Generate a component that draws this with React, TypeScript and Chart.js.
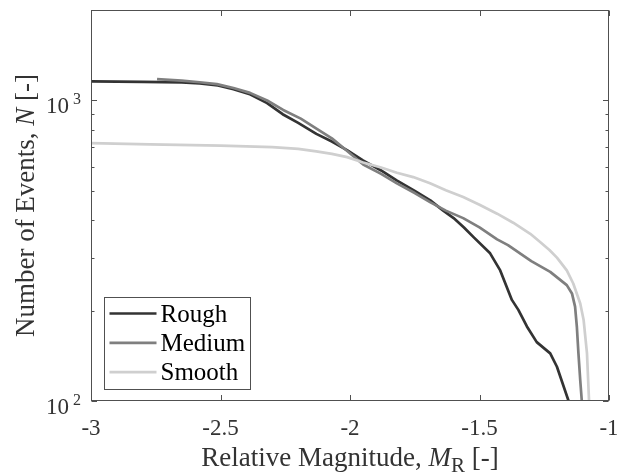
import { useEffect, useRef } from 'react';
import { Chart, registerables } from 'chart.js';

Chart.register(...registerables);

// ---- data ----
const seriesLabels = ['Rough', 'Medium', 'Smooth'];
const seriesColors = ['#333333', '#7f7f7f', '#cfcfcf'];

const roughX = [-3.0, -2.8, -2.65, -2.58, -2.51, -2.45, -2.39, -2.32, -2.26, -2.2, -2.13, -2.07, -2.01, -1.95, -1.88, -1.82, -1.75, -1.69, -1.64, -1.6, -1.56, -1.523, -1.459, -1.42, -1.375, -1.35, -1.317, -1.279, -1.227, -1.201, -1.156];
const roughN = [1157, 1153, 1149, 1140, 1122, 1090, 1052, 980, 900, 842, 774, 730, 682, 632, 585, 542, 500, 465, 430, 406, 378, 351, 310, 272, 217, 201, 177, 157, 144, 130, 100];

const mediumX = [-2.745, -2.65, -2.58, -2.514, -2.45, -2.386, -2.32, -2.258, -2.19, -2.128, -2.07, -2.012, -1.949, -1.88, -1.819, -1.75, -1.691, -1.63, -1.563, -1.5, -1.432, -1.39, -1.3, -1.227, -1.163, -1.143, -1.131, -1.124, -1.118, -1.111, -1.105];
const mediumN = [1178, 1165, 1150, 1133, 1100, 1060, 1000, 930, 870, 805, 748, 680, 612, 570, 530, 492, 459, 430, 406, 378, 345, 330, 292, 269, 243, 228, 206, 176, 144, 117, 100];

const smoothX = [-3.0, -2.772, -2.5, -2.4, -2.3, -2.2, -2.13, -2.07, -2.011, -1.949, -1.88, -1.819, -1.756, -1.691, -1.63, -1.563, -1.5, -1.432, -1.37, -1.304, -1.266, -1.23, -1.201, -1.163, -1.138, -1.111, -1.098, -1.085, -1.077];
const smoothN = [721, 714, 708, 704, 699, 690, 677, 664, 648, 622, 598, 575, 556, 530, 503, 477, 450, 420, 392, 360, 338, 318, 300, 272, 246, 211, 186, 144, 100];

const xTickValues = [-3, -2.5, -2, -1.5, -1];
const xTickLabels = ['-3', '-2.5', '-2', '-1.5', '-1'];
const yMajorTicks = [100, 1000];
const yMajorExponents = ['2', '3'];
const yMinorTicks = [200, 300, 400, 500, 600, 700, 800, 900, 2000];

const FONT = "'Liberation Serif', 'Times New Roman', serif";

type Seg = { text: string; font: string; dy: number };

function segWidth(ctx: CanvasRenderingContext2D, segs: Seg[]) {
  let w = 0;
  for (const s of segs) {
    ctx.font = s.font;
    w += ctx.measureText(s.text).width;
  }
  return w;
}

function drawSegs(ctx: CanvasRenderingContext2D, segs: Seg[], cx: number, y: number) {
  const total = segWidth(ctx, segs);
  let x = cx - total / 2;
  ctx.textAlign = 'left';
  ctx.textBaseline = 'alphabetic';
  for (const s of segs) {
    ctx.font = s.font;
    ctx.fillText(s.text, x, y + s.dy);
    x += ctx.measureText(s.text).width;
  }
}

const matlabAxes = {
  id: 'matlabAxes',
  afterDatasetsDraw(chart: any) {
    const { ctx, chartArea: a, scales } = chart;
    const xs = scales.x;
    const ys = scales.y;
    ctx.save();
    const L = Math.round(a.left) + 0.5;
    const R = Math.round(a.right) - 0.5;
    const T = Math.round(a.top) + 0.5;
    const B = Math.round(a.bottom) - 0.5;

    // box
    ctx.strokeStyle = '#505050';
    ctx.lineWidth = 1;
    ctx.strokeRect(L, T, R - L, B - T);

    // ticks (inward)
    ctx.beginPath();
    xTickValues.forEach((v) => {
      const px = Math.round(xs.getPixelForValue(v)) + 0.5;
      ctx.moveTo(px, B); ctx.lineTo(px, B - 5.5);
      ctx.moveTo(px, T); ctx.lineTo(px, T + 5.5);
    });
    yMajorTicks.forEach((v) => {
      const py = Math.round(ys.getPixelForValue(v)) + 0.5;
      ctx.moveTo(L, py); ctx.lineTo(L + 5.5, py);
      ctx.moveTo(R, py); ctx.lineTo(R - 5.5, py);
    });
    yMinorTicks.forEach((v) => {
      const py = Math.round(ys.getPixelForValue(v)) + 0.5;
      ctx.moveTo(L, py); ctx.lineTo(L + 3, py);
      ctx.moveTo(R, py); ctx.lineTo(R - 3, py);
    });
    ctx.stroke();

    // x tick labels
    ctx.fillStyle = '#333333';
    ctx.font = `23px ${FONT}`;
    ctx.textAlign = 'center';
    ctx.textBaseline = 'alphabetic';
    xTickValues.forEach((v, i) => {
      ctx.fillText(xTickLabels[i], xs.getPixelForValue(v), a.bottom + 34);
    });

    // y tick labels 10^n
    yMajorTicks.forEach((v, i) => {
      const py = ys.getPixelForValue(v);
      ctx.textAlign = 'left';
      ctx.font = `16px ${FONT}`;
      const ew = ctx.measureText(yMajorExponents[i]).width;
      const ex = a.left - 10 - ew;
      ctx.fillText(yMajorExponents[i], ex, py + 4);
      ctx.font = `23px ${FONT}`;
      const tw = ctx.measureText('10').width;
      ctx.fillText('10', ex - 4 - tw, py + 13);
    });

    // x title
    const xSegs: Seg[] = [
      { text: 'Relative Magnitude, ', font: `27px ${FONT}`, dy: 0 },
      { text: 'M', font: `italic 27px ${FONT}`, dy: 0 },
      { text: 'R', font: `21px ${FONT}`, dy: 6 },
      { text: ' [-]', font: `27px ${FONT}`, dy: 0 },
    ];
    drawSegs(ctx, xSegs, (a.left + a.right) / 2, a.bottom + 65);

    // y title
    const ySegs: Seg[] = [
      { text: 'Number of Events, ', font: `27px ${FONT}`, dy: 0 },
      { text: 'N', font: `italic 27px ${FONT}`, dy: 0 },
      { text: ' [-]', font: `27px ${FONT}`, dy: 0 },
    ];
    ctx.save();
    ctx.translate(a.left - 57, (a.top + a.bottom) / 2);
    ctx.rotate(-Math.PI / 2);
    drawSegs(ctx, ySegs, 0, 0);
    ctx.restore();

    // legend
    const bx = Math.round(a.left + 13) + 0.5;
    const bw = 146;
    const bh = 92;
    const by = Math.round(a.bottom - 104) + 0.5;
    ctx.fillStyle = '#ffffff';
    ctx.fillRect(bx, by, bw, bh);
    ctx.strokeStyle = '#505050';
    ctx.lineWidth = 1;
    ctx.strokeRect(bx, by, bw, bh);
    chart.data.datasets.forEach((ds: any, i: number) => {
      const ry = by + 16 + i * 29.3;
      ctx.strokeStyle = ds.borderColor;
      ctx.lineWidth = ds.borderWidth;
      ctx.beginPath();
      ctx.moveTo(bx + 5, ry);
      ctx.lineTo(bx + 52, ry);
      ctx.stroke();
      ctx.fillStyle = '#000000';
      ctx.font = `25px ${FONT}`;
      ctx.textAlign = 'left';
      ctx.textBaseline = 'alphabetic';
      ctx.fillText(ds.label, bx + 56, ry + 8);
    });
    ctx.restore();
  },
};

export default function App() {
  const ref = useRef<HTMLCanvasElement>(null);
  useEffect(() => {
    const xsArr = [roughX, mediumX, smoothX];
    const ysArr = [roughN, mediumN, smoothN];
    const chart = new Chart(ref.current as HTMLCanvasElement, {
      type: 'line',
      data: {
        datasets: seriesLabels.map((label, i) => ({
          label,
          data: xsArr[i].map((x, j) => ({ x, y: ysArr[i][j] })),
          borderColor: seriesColors[i],
          backgroundColor: seriesColors[i],
          borderWidth: 2.7,
          pointRadius: 0,
          tension: 0,
          fill: false,
          order: 3 - i,
          borderJoinStyle: 'round' as const,
        })),
      },
      options: {
        responsive: false,
        animation: false,
        events: [],
        layout: { padding: { left: 91, top: 10, right: 8, bottom: 75 } },
        plugins: { legend: { display: false }, tooltip: { enabled: false }, title: { display: false } },
        scales: {
          x: { type: 'linear', min: -3, max: -1, display: false },
          y: { type: 'logarithmic', min: 100, max: 2000, display: false },
        },
      },
      plugins: [matlabAxes],
    } as any);
    return () => chart.destroy();
  }, []);
  return (
    <div style={{ position: 'fixed', left: 0, top: 0, width: 617, height: 476, background: '#ffffff' }}>
      <canvas ref={ref} width={617} height={476} style={{ display: 'block', width: 617, height: 476 }} />
    </div>
  );
}
